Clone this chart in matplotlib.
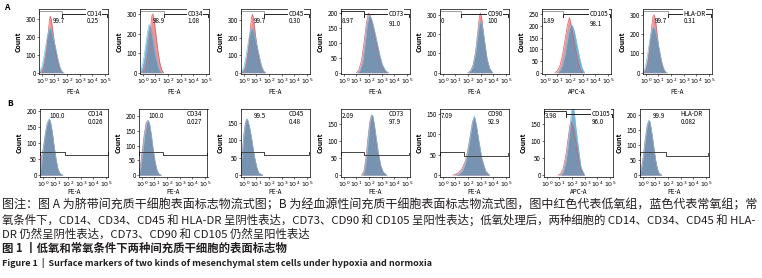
import numpy as np
import matplotlib
matplotlib.use("Agg")
import matplotlib.pyplot as plt
import matplotlib.transforms as mtransforms

plt.rcParams['font.family'] = ['Noto Sans CJK SC', 'DejaVu Sans']
plt.rcParams['axes.unicode_minus'] = False

# ---- data (log10 of fluorescence, counts) ----
markers = ["CD14", "CD34", "CD45", "CD73", "CD90", "CD105", "HLA-DR"]
xlabels = ["PE-A", "PE-A", "PE-A", "PE-A", "PE-A", "APC-A", "PE-A"]

# row A: umbilical cord MSC
neg_a = ["99.7", "98.9", "99.7", "8.97", "0", "1.89", "99.7"]
pos_a = ["0.25", "1.08", "0.30", "91.0", "100", "98.1", "0.31"]
# row B: blood-derived MSC
neg_b = ["100.0", "100.0", "99.5", "2.09", "7.09", "3.98", "99.9"]
pos_b = ["0.026", "0.027", "0.48", "97.9", "92.9", "96.0", "0.082"]

yticks_a = [[0, 100, 200, 300], [0, 100, 200, 300], [0, 100, 200, 300],
            [0, 50, 100, 150, 200], [0, 100, 200, 300],
            [0, 50, 100, 150, 200, 250], [0, 100, 200, 300]]
ytop_a = [358, 325, 365, 215, 330, 272, 330]
yticks_b = [[0, 50, 100, 150, 200], [0, 50, 100, 150, 200], [0, 50, 100, 150],
            [0, 50, 100, 150], [0, 50, 100, 150], [0, 50, 100, 150],
            [0, 50, 100, 150, 200]]
ytop_b = [205, 225, 190, 195, 162, 193, 219]

# gate boundaries (log10) and gate heights for row B
split_a = [1.6, 1.65, 1.6, 1.6, 1.45, 1.45, 1.75]
split_b = [1.76, 1.65, 1.6, 1.6, 1.7, 1.5, 1.8]
gate_left_b = [72, 79, 66, 68, 56, None, 76]
gate_right_b = [63, 67, 58, 58, 48, None, 64]

# histograms A (red = hypoxia, blue = normoxia)
a_cd14_red_x = [-0.1, 0.1, 0.25, 0.4, 0.5, 0.6, 0.67, 0.75, 0.9, 1.05, 1.2, 1.35, 1.5, 1.65]
a_cd14_red_y = [0, 10, 50, 130, 220, 290, 318, 300, 220, 140, 75, 30, 8, 0]
a_cd14_blue_x = [-0.2, 0.0, 0.15, 0.3, 0.45, 0.6, 0.7, 0.85, 1.0, 1.15, 1.3, 1.45, 1.6, 1.75]
a_cd14_blue_y = [5, 30, 80, 145, 210, 245, 250, 215, 170, 120, 70, 30, 8, 0]

a_cd34_red_x = [0.0, 0.15, 0.3, 0.45, 0.6, 0.72, 0.8, 0.9, 1.05, 1.2, 1.35, 1.5, 1.65]
a_cd34_red_y = [0, 15, 50, 120, 220, 290, 300, 270, 190, 110, 50, 15, 0]
a_cd34_blue_x = [-0.2, -0.05, 0.1, 0.25, 0.4, 0.5, 0.6, 0.75, 0.9, 1.05, 1.2, 1.35, 1.5]
a_cd34_blue_y = [5, 30, 80, 150, 215, 245, 240, 190, 130, 75, 35, 10, 0]

a_cd45_red_x = [-0.1, 0.1, 0.25, 0.4, 0.5, 0.6, 0.68, 0.78, 0.9, 1.05, 1.2, 1.35, 1.5, 1.65]
a_cd45_red_y = [0, 10, 50, 140, 240, 310, 335, 310, 230, 145, 75, 30, 8, 0]
a_cd45_blue_x = [-0.2, 0.0, 0.15, 0.3, 0.45, 0.6, 0.7, 0.85, 1.0, 1.15, 1.3, 1.45, 1.6, 1.75]
a_cd45_blue_y = [5, 30, 80, 150, 215, 250, 255, 220, 170, 120, 70, 30, 8, 0]

a_cd73_red_x = [1.0, 1.2, 1.4, 1.6, 1.8, 1.95, 2.05, 2.2, 2.4, 2.6, 2.8, 3.0, 3.2, 3.4]
a_cd73_red_y = [0, 10, 40, 100, 170, 200, 198, 175, 135, 95, 55, 25, 8, 0]
a_cd73_blue_x = [1.1, 1.3, 1.5, 1.7, 1.85, 2.0, 2.1, 2.25, 2.45, 2.65, 2.85, 3.05, 3.3, 3.55]
a_cd73_blue_y = [0, 8, 35, 100, 160, 190, 192, 175, 140, 100, 60, 28, 8, 0]

a_cd90_red_x = [2.0, 2.2, 2.4, 2.6, 2.75, 2.88, 2.97, 3.08, 3.2, 3.35, 3.5, 3.7, 3.9]
a_cd90_red_y = [0, 10, 40, 110, 200, 280, 310, 280, 210, 130, 65, 20, 0]
a_cd90_blue_x = [2.0, 2.2, 2.4, 2.6, 2.75, 2.88, 2.97, 3.08, 3.2, 3.35, 3.5, 3.7, 3.95]
a_cd90_blue_y = [0, 8, 35, 100, 180, 245, 265, 255, 215, 145, 75, 25, 0]

a_cd105_red_x = [0.8, 1.0, 1.2, 1.4, 1.6, 1.8, 1.95, 2.05, 2.2, 2.4, 2.6, 2.8, 3.0]
a_cd105_red_y = [0, 8, 30, 75, 140, 205, 235, 215, 170, 110, 55, 15, 0]
a_cd105_blue_x = [1.0, 1.2, 1.4, 1.6, 1.8, 1.95, 2.1, 2.2, 2.35, 2.55, 2.75, 2.95, 3.15]
a_cd105_blue_y = [0, 8, 30, 75, 140, 185, 205, 200, 175, 120, 65, 20, 0]

a_hla_red_x = [-0.1, 0.05, 0.2, 0.35, 0.47, 0.57, 0.65, 0.75, 0.88, 1.0, 1.15, 1.3, 1.45, 1.6]
a_hla_red_y = [0, 15, 60, 150, 240, 290, 300, 280, 210, 140, 75, 30, 8, 0]
a_hla_blue_x = [-0.2, -0.05, 0.1, 0.25, 0.4, 0.55, 0.65, 0.8, 0.95, 1.1, 1.25, 1.4, 1.55, 1.7]
a_hla_blue_y = [5, 25, 75, 140, 200, 232, 235, 210, 160, 110, 60, 25, 6, 0]

# histograms B
b_cd14_red_x = [-0.22, -0.1, 0.05, 0.2, 0.35, 0.5, 0.6, 0.75, 0.9, 1.05, 1.2, 1.35, 1.55]
b_cd14_red_y = [45, 55, 85, 125, 160, 170, 165, 130, 85, 45, 18, 5, 0]
b_cd14_blue_x = [-0.22, -0.1, 0.05, 0.2, 0.35, 0.5, 0.6, 0.75, 0.9, 1.05, 1.2, 1.35, 1.6]
b_cd14_blue_y = [5, 30, 85, 130, 160, 175, 168, 135, 90, 50, 20, 6, 0]

b_cd34_red_x = [-0.22, -0.1, 0.05, 0.2, 0.35, 0.47, 0.57, 0.7, 0.85, 1.0, 1.15, 1.3, 1.5]
b_cd34_red_y = [10, 35, 85, 140, 178, 186, 178, 145, 95, 50, 20, 5, 0]
b_cd34_blue_x = [-0.2, -0.05, 0.1, 0.25, 0.4, 0.52, 0.62, 0.75, 0.9, 1.05, 1.2, 1.35, 1.55]
b_cd34_blue_y = [5, 30, 85, 140, 178, 186, 175, 140, 90, 48, 18, 5, 0]

b_cd45_red_x = [-0.22, -0.1, 0.0, 0.12, 0.22, 0.32, 0.45, 0.6, 0.75, 0.9, 1.05, 1.2, 1.5]
b_cd45_red_y = [30, 70, 115, 148, 160, 155, 135, 105, 70, 40, 18, 5, 0]
b_cd45_blue_x = [-0.22, -0.1, 0.0, 0.12, 0.22, 0.32, 0.45, 0.6, 0.75, 0.9, 1.05, 1.2, 1.5]
b_cd45_blue_y = [25, 65, 112, 146, 162, 158, 140, 110, 75, 43, 20, 6, 0]

b_cd73_red_x = [1.4, 1.6, 1.75, 1.9, 2.05, 2.18, 2.28, 2.4, 2.55, 2.7, 2.9, 3.1, 3.35]
b_cd73_red_y = [0, 12, 50, 105, 155, 176, 172, 145, 105, 65, 28, 8, 0]
b_cd73_blue_x = [1.5, 1.65, 1.8, 1.95, 2.08, 2.2, 2.3, 2.42, 2.57, 2.72, 2.92, 3.12, 3.4]
b_cd73_blue_y = [0, 12, 50, 105, 155, 178, 176, 150, 110, 70, 30, 10, 0]

b_cd90_red_x = [0.8, 1.2, 1.5, 1.8, 2.0, 2.2, 2.35, 2.5, 2.65, 2.85, 3.1, 3.4, 3.7]
b_cd90_red_y = [0, 5, 15, 35, 65, 100, 130, 140, 120, 80, 35, 8, 0]
b_cd90_blue_x = [1.0, 1.3, 1.6, 1.8, 2.0, 2.2, 2.35, 2.5, 2.65, 2.85, 3.1, 3.4, 3.7]
b_cd90_blue_y = [0, 3, 12, 30, 60, 100, 130, 145, 125, 85, 40, 10, 0]

b_cd105_red_x = [0.9, 1.1, 1.3, 1.5, 1.7, 1.85, 1.95, 2.1, 2.3, 2.5, 2.7, 2.95]
b_cd105_red_y = [0, 5, 20, 55, 110, 150, 155, 140, 100, 55, 15, 0]
b_cd105_blue_x = [1.1, 1.3, 1.5, 1.7, 1.85, 1.95, 2.05, 2.15, 2.3, 2.5, 2.7, 3.0]
b_cd105_blue_y = [0, 8, 35, 85, 140, 185, 205, 190, 140, 80, 25, 0]

b_hla_red_x = [-0.22, -0.1, 0.05, 0.2, 0.35, 0.47, 0.57, 0.7, 0.85, 1.0, 1.15, 1.3, 1.5]
b_hla_red_y = [5, 25, 65, 120, 165, 178, 172, 140, 95, 50, 20, 5, 0]
b_hla_blue_x = [-0.22, -0.1, 0.05, 0.2, 0.35, 0.47, 0.57, 0.7, 0.85, 1.0, 1.15, 1.3, 1.5]
b_hla_blue_y = [3, 20, 60, 115, 163, 182, 178, 145, 100, 55, 22, 6, 0]

curves_a = [
    (a_cd14_red_x, a_cd14_red_y, a_cd14_blue_x, a_cd14_blue_y),
    (a_cd34_red_x, a_cd34_red_y, a_cd34_blue_x, a_cd34_blue_y),
    (a_cd45_red_x, a_cd45_red_y, a_cd45_blue_x, a_cd45_blue_y),
    (a_cd73_red_x, a_cd73_red_y, a_cd73_blue_x, a_cd73_blue_y),
    (a_cd90_red_x, a_cd90_red_y, a_cd90_blue_x, a_cd90_blue_y),
    (a_cd105_red_x, a_cd105_red_y, a_cd105_blue_x, a_cd105_blue_y),
    (a_hla_red_x, a_hla_red_y, a_hla_blue_x, a_hla_blue_y),
]
curves_b = [
    (b_cd14_red_x, b_cd14_red_y, b_cd14_blue_x, b_cd14_blue_y),
    (b_cd34_red_x, b_cd34_red_y, b_cd34_blue_x, b_cd34_blue_y),
    (b_cd45_red_x, b_cd45_red_y, b_cd45_blue_x, b_cd45_blue_y),
    (b_cd73_red_x, b_cd73_red_y, b_cd73_blue_x, b_cd73_blue_y),
    (b_cd90_red_x, b_cd90_red_y, b_cd90_blue_x, b_cd90_blue_y),
    (b_cd105_red_x, b_cd105_red_y, b_cd105_blue_x, b_cd105_blue_y),
    (b_hla_red_x, b_hla_red_y, b_hla_blue_x, b_hla_blue_y),
]

caption = [
    "图注：图 A 为脐带间充质干细胞表面标志物流式图；B 为经血源性间充质干细胞表面标志物流式图，图中红色代表低氧组，蓝色代表常氧组；常",
    "氧条件下，CD14、CD34、CD45 和 HLA-DR 呈阴性表达，CD73、CD90 和 CD105 呈阳性表达；低氧处理后，两种细胞的 CD14、CD34、CD45 和 HLA-",
    "DR 仍然呈阴性表达，CD73、CD90 和 CD105 仍然呈阳性表达",
    "图 1 丨低氧和常氧条件下两种间充质干细胞的表面标志物",
    "Figure 1  |  Surface markers of two kinds of mesenchymal stem cells under hypoxia and normoxia",
]

# ---- layout (pixels) ----
W, H = 762, 278
left_a = [39, 140, 241, 341, 440, 542, 643]
left_b = [40, 139, 241, 341, 440, 544, 640]
pw = 68.5

RED, RED_EDGE = "#ec8286", "#e25c62"
BLUE, BLUE_EDGE = "#4e93bb", "#62c8ee"

fig = plt.figure(figsize=(W / 100, H / 100), dpi=100)


def px_axes(x, top, w, h):
    return fig.add_axes([x / W, 1 - (top + h) / H, w / W, h / H])


def draw_hist(ax, c, ytop, yticks, xlabel):
    rx, ry, bx, by = [np.asarray(v, float) for v in c]
    ax.fill_between(10 ** rx, ry, color=RED, alpha=0.85, lw=0)
    ax.plot(10 ** rx, ry, color=RED_EDGE, lw=0.5)
    ax.fill_between(10 ** bx, by, color=BLUE, alpha=0.75, lw=0)
    ax.plot(10 ** bx, by, color=BLUE_EDGE, lw=0.5)
    ax.set_xscale('log')
    ax.set_xlim(10 ** -0.22, 10 ** 5.2)
    ax.set_ylim(-ytop * 0.02, ytop)
    ax.set_xticks([10 ** k for k in range(6)])
    ax.set_xticklabels([r"$10^{%d}$" % k for k in range(6)])
    ax.minorticks_off()
    ax.set_yticks(yticks)
    ax.tick_params(labelsize=4.5, length=1.5, width=0.4, pad=0.8)
    for s in ax.spines.values():
        s.set_linewidth(0.5)
    ax.set_ylabel("Count", fontsize=5, fontweight='bold', labelpad=1)
    ax.set_xlabel(xlabel, fontsize=4.5, labelpad=0.5)


def gate(ax, x0, x1, y, color, tick=0.045, trans=None):
    tr = trans if trans is not None else ax.transData
    ax.plot([10 ** x0, 10 ** x0, 10 ** x1, 10 ** x1], [y - tick, y, y, y - tick],
            color=color, lw=0.7, transform=tr, clip_on=False, solid_joinstyle='miter')


# row A
for i in range(7):
    ax = px_axes(left_a[i], 9, pw, 65)
    draw_hist(ax, curves_a[i], ytop_a[i], yticks_a[i], xlabels[i])
    tr = mtransforms.blended_transform_factory(ax.transData, ax.transAxes)
    lcol = "#333333" if i == 3 else "#a0a0a0"
    gate(ax, -0.2, split_a[i], 0.975, lcol, 0.05, tr)
    gate(ax, split_a[i], 5.17, 0.925, "#222222", 0.05, tr)
    mx = 3.0 if markers[i] == "HLA-DR" else 3.55
    ax.text(10 ** mx, 0.93, markers[i], transform=tr, fontsize=4.5, va='center',
            ha='left', bbox=dict(fc='white', ec='none', pad=0.3))
    nx = [0.85, 0.8, 0.75, -0.15, -0.15, -0.15, 0.7][i]
    ax.text(10 ** nx, 0.82, neg_a[i], transform=tr, fontsize=4.5, va='center', ha='left')
    py = 0.77 if i in (3, 5) else 0.82
    ax.text(10 ** mx, py, pos_a[i], transform=tr, fontsize=4.5, va='center', ha='left')
    ax.yaxis.set_label_coords(-0.25, 0.5)
    ax.xaxis.set_label_coords(0.5, -0.22)

# row B
for i in range(7):
    ax = px_axes(left_b[i], 109, pw, 67.5)
    draw_hist(ax, curves_b[i], ytop_b[i], yticks_b[i], xlabels[i])
    tr = mtransforms.blended_transform_factory(ax.transData, ax.transAxes)
    mx = 3.0 if markers[i] == "HLA-DR" else 3.55
    if gate_left_b[i] is None:
        gate(ax, -0.2, split_b[i], 0.975, "#333333", 0.05, tr)
        gate(ax, split_b[i], 5.17, 0.925, "#222222", 0.05, tr)
        ax.text(10 ** mx, 0.93, markers[i], transform=tr, fontsize=4.5, va='center',
                ha='left', bbox=dict(fc='white', ec='none', pad=0.3))
        ax.text(10 ** mx, 0.8, pos_b[i], transform=tr, fontsize=4.5, va='center', ha='left')
    else:
        gate(ax, -0.22, split_b[i], gate_left_b[i], "#444444", ytop_b[i] * 0.04)
        gate(ax, split_b[i], 5.17, gate_right_b[i], "#444444", -ytop_b[i] * 0.04)
        ax.text(10 ** mx, 0.93, markers[i], transform=tr, fontsize=4.5, va='center', ha='left')
        ax.text(10 ** mx, 0.8, pos_b[i], transform=tr, fontsize=4.5, va='center', ha='left')
    nx = [0.5, 0.55, 0.75, -0.15, -0.15, -0.15, 0.75][i]
    ax.text(10 ** nx, 0.89, neg_b[i], transform=tr, fontsize=4.5, va='center', ha='left')
    ax.yaxis.set_label_coords(-0.25, 0.5)
    ax.xaxis.set_label_coords(0.5, -0.17)

fig.text(4 / W, 1 - 7 / H, "A", fontsize=6, fontweight='bold', va='center')
fig.text(7 / W, 1 - 104 / H, "B", fontsize=6, fontweight='bold', va='center')

# caption
cap_y = [204.5, 219.5, 234, 248.5, 263.5]
cap_w = [755, 755, None, None, 430]
cap_wt = ['normal', 'normal', 'normal', 'bold', 'bold']
renderer = fig.canvas.get_renderer()
for s, y, w, wt in zip(caption, cap_y, cap_w, cap_wt):
    t = fig.text(2 / W, 1 - y / H, s, fontsize=8.2, va='center', ha='left',
                 fontweight=wt, color='#231f20')
    if w is not None:
        bw = t.get_window_extent(renderer).width
        t.set_fontsize(8.2 * w / bw)

fig.savefig("out.png", dpi=100)
